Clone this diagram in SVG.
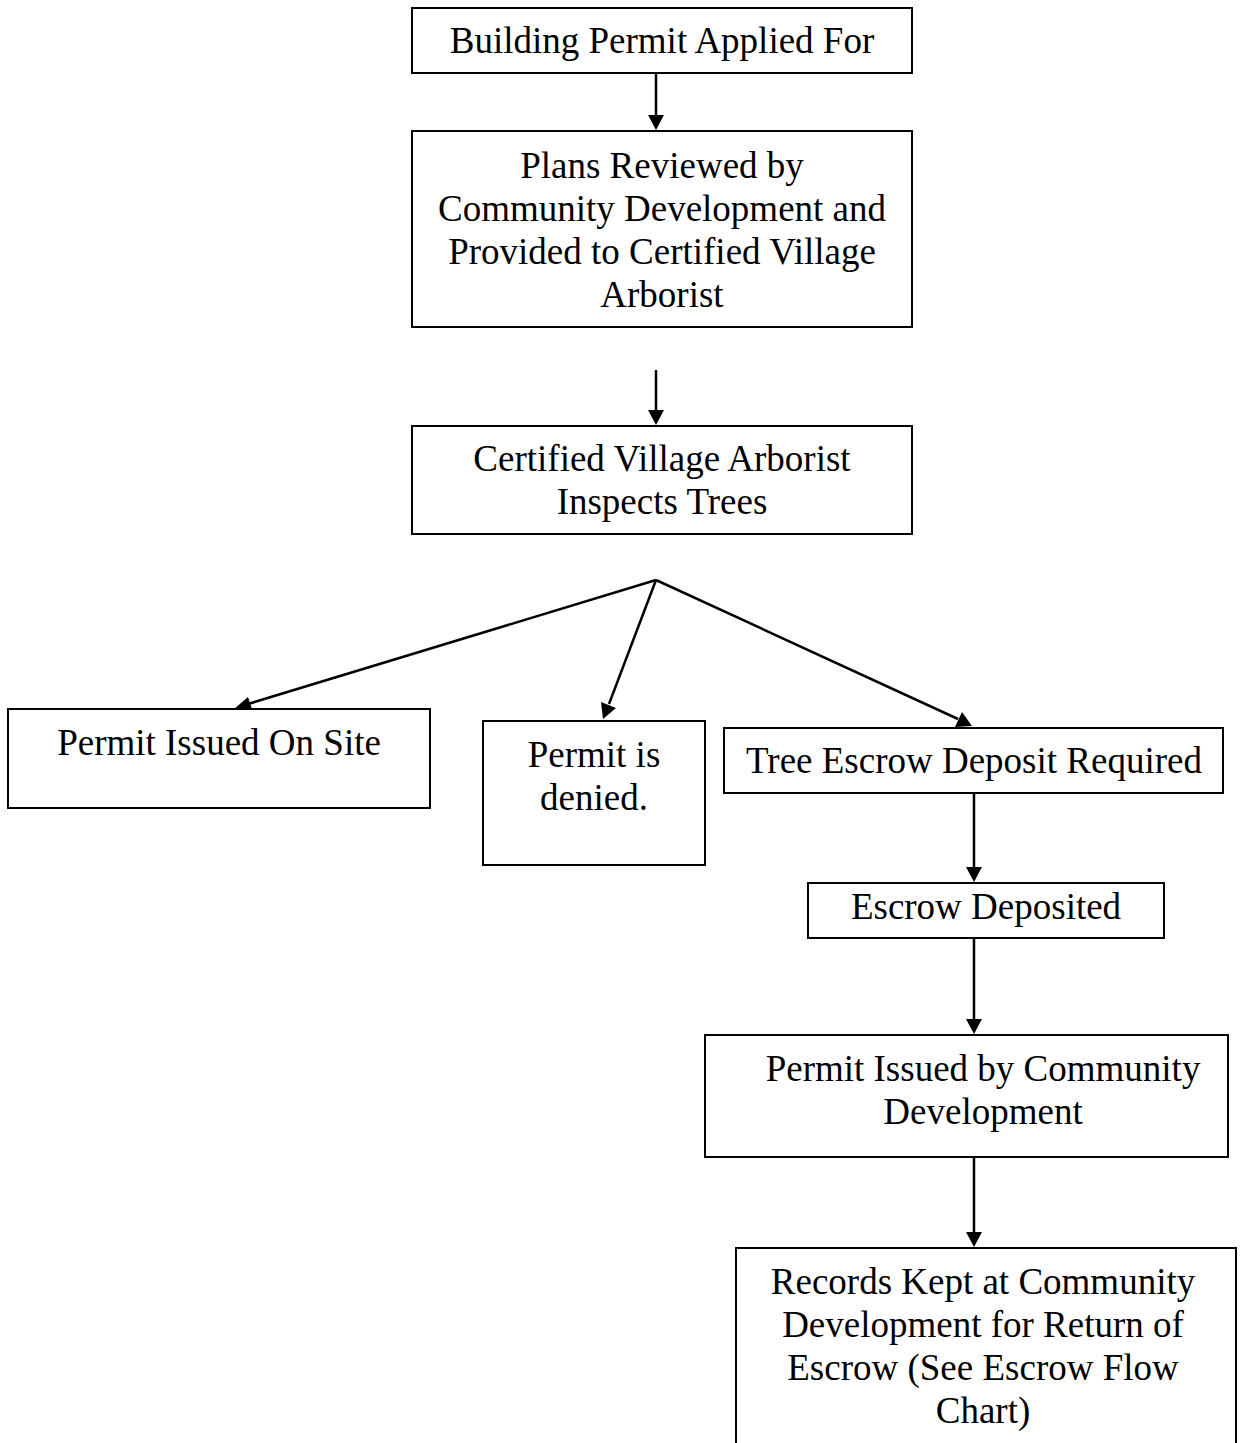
<svg xmlns="http://www.w3.org/2000/svg" width="1257" height="1443" viewBox="0 0 1257 1443">
<style>
.box{fill:#fff;stroke:#000;stroke-width:2}
.t{font-family:"Liberation Serif","Times New Roman",serif;font-size:37px;fill:#000;text-anchor:middle}
.c{stroke:#000;stroke-width:2.5;fill:none}
</style>
<rect width="1257" height="1443" fill="#fff"/>
<g id="connectors">
<line class="c" x1="656" y1="73" x2="656" y2="116"/>
<path d="M648,115 L656,130 L664,115 z"/>
<line class="c" x1="656" y1="370" x2="656" y2="411"/>
<path d="M648,410 L656,425 L664,410 z"/>
<line class="c" x1="656" y1="580" x2="248" y2="704"/>
<path d="M234,709 L248,697 L253,712 z"/>
<line class="c" x1="656" y1="580" x2="609" y2="704"/>
<path d="M603,719 L601,702 L616,708 z"/>
<line class="c" x1="656" y1="580" x2="958" y2="719"/>
<path d="M972,726 L955,727 L962,712 z"/>
<line class="c" x1="974" y1="793" x2="974" y2="868"/>
<path d="M966,867 L974,882 L982,867 z"/>
<line class="c" x1="974" y1="938" x2="974" y2="1020"/>
<path d="M966,1019 L974,1034 L982,1019 z"/>
<line class="c" x1="974" y1="1157" x2="974" y2="1233"/>
<path d="M966,1232 L974,1247 L982,1232 z"/>
</g>
<g id="n1"><rect class="box" x="412" y="8" width="500" height="65"/><text class="t" x="662" y="53">Building Permit Applied For</text></g>
<g id="n2"><rect class="box" x="412" y="131" width="500" height="196"/><text class="t" x="662" y="178">Plans Reviewed by</text><text class="t" x="662" y="221">Community Development and</text><text class="t" x="662" y="264">Provided to Certified Village</text><text class="t" x="662" y="307">Arborist</text></g>
<g id="n3"><rect class="box" x="412" y="426" width="500" height="108"/><text class="t" x="662" y="471">Certified Village Arborist</text><text class="t" x="662" y="514">Inspects Trees</text></g>
<g id="n4"><rect class="box" x="8" y="709" width="422" height="99"/><text class="t" x="219" y="755">Permit Issued On Site</text></g>
<g id="n5"><rect class="box" x="483" y="721" width="222" height="144"/><text class="t" x="594" y="767">Permit is</text><text class="t" x="594" y="810">denied.</text></g>
<g id="n6"><rect class="box" x="724" y="728" width="499" height="65"/><text class="t" x="974" y="773">Tree Escrow Deposit Required</text></g>
<g id="n7"><rect class="box" x="808" y="883" width="356" height="55"/><text class="t" x="986" y="919">Escrow Deposited</text></g>
<g id="n8"><rect class="box" x="705" y="1035" width="523" height="122"/><text class="t" x="983" y="1081">Permit Issued by Community</text><text class="t" x="983" y="1124">Development</text></g>
<g id="n9"><rect class="box" x="736" y="1248" width="500" height="210"/><text class="t" x="983" y="1294">Records Kept at Community</text><text class="t" x="983" y="1337">Development for Return of</text><text class="t" x="983" y="1380">Escrow (See Escrow Flow</text><text class="t" x="983" y="1423">Chart)</text></g>
</svg>
